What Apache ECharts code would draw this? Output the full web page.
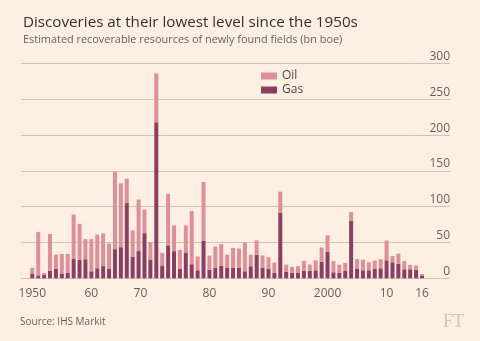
<!DOCTYPE html>
<html>
<head>
<meta charset="utf-8">
<script src="https://cdn.jsdelivr.net/npm/echarts@6/dist/echarts.min.js"></script>
<style>
html,body{margin:0;padding:0;background:#fdf0e3;}
#chart{width:480px;height:341px;}
</style>
</head>
<body>
<div id="chart"></div>
<script>
var years = [];
for (var y = 1950; y <= 2016; y++) years.push(String(y));

var gas = [6, 4, 4.7, 10.7, 13.5, 6, 8, 27, 25.7, 26.6,
  9.8, 14, 17, 13, 40.7, 43.5, 105, 30, 38, 63,
  25.7, 218, 18, 46, 37.9, 13, 36, 19.6, 11.2, 52.3,
  12, 14.5, 17.8, 15, 14.5, 14.5, 9.8, 16.8, 33, 14.5,
  13.5, 8, 91.6, 9.3, 7.5, 7.5, 10.7, 10.5, 11.2, 23,
  37.4, 8.4, 8, 10.3, 80.4, 13, 11.2, 11.2, 13, 14,
  25, 22.4, 20.5, 12.6, 12.6, 12, 4];

var oil = [8.5, 60.5, 2.8, 51.3, 19.5, 28, 26, 62, 50.3, 28.1,
  44.9, 47, 45.6, 35.6, 107.9, 89.2, 34, 37, 72, 33,
  24.3, 68, 17.5, 71.8, 35.9, 26.7, 37.8, 74.4, 19.2, 82.3,
  19.8, 29.9, 29.9, 18, 28, 27.1, 40.2, 16.2, 20, 17.5,
  15.9, 14, 29.4, 9.7, 8.5, 9.3, 13.6, 8.8, 13.8, 20,
  22.6, 15.6, 11, 11.2, 12.1, 14, 14.8, 11.2, 11.8, 12.6,
  27.8, 8.6, 14.1, 11.4, 6.1, 5.8, 2];

var xTickLabels = {'1950':'1950', '1960':'60', '1970':'70', '1980':'80', '1990':'90', '2000':'2000', '2010':'10', '2016':'16'};
var yTicks = [0, 50, 100, 150, 200, 250, 300];

var FONT = 'Open Sans';
var chart = echarts.init(document.getElementById('chart'), null, {renderer: 'canvas'});

chart.setOption({
  backgroundColor: '#fdf0e3',
  animation: false,
  textStyle: {fontFamily: FONT},
  title: {
    text: 'Discoveries at their lowest level since the 1950s',
    subtext: 'Estimated recoverable resources of newly found fields (bn boe)',
    left: 18, top: 10, itemGap: 4,
    textStyle: {fontFamily: FONT, fontSize: 15.2, fontWeight: 'normal', color: '#33302e'},
    subtextStyle: {fontFamily: FONT, fontSize: 10.9, color: '#66605c'}
  },
  legend: {
    data: ['Oil', 'Gas'],
    orient: 'vertical', left: 256, top: 65, itemGap: 2,
    itemWidth: 16, itemHeight: 7, icon: 'rect',
    textStyle: {fontFamily: FONT, fontSize: 12, color: '#4d4845'}
  },
  grid: [
    {left: 21, right: 30, top: 63.5, bottom: 62.7},
    {left: 29.35, right: 55.05, top: 63.5, bottom: 62.7}
  ],
  xAxis: [
    {type: 'value', gridIndex: 0, min: 0, max: 1, show: false},
    {
      type: 'category', gridIndex: 1, data: years,
      axisLine: {show: false}, axisTick: {show: false}, splitLine: {show: false},
      axisLabel: {
        interval: 0, margin: 9, fontSize: 12, color: '#66605c', fontFamily: FONT,
        formatter: function (v) {
          var t = xTickLabels[v] || '';
          return v === '1970' ? '{s|' + t + '}' : t;
        },
        rich: {s: {fontSize: 12, color: '#66605c', fontFamily: FONT, padding: [0, 20, 0, 0]}}
      }
    }
  ],
  yAxis: [
    {
      type: 'value', gridIndex: 0, min: yTicks[0], max: yTicks[yTicks.length - 1], interval: 50, position: 'right',
      axisLine: {show: false}, axisTick: {show: false},
      splitLine: {lineStyle: {color: '#cdc4b8', width: 1}},
      axisLabel: {inside: true, margin: 0, fontSize: 12, color: '#66605c', fontFamily: FONT,
        verticalAlign: 'bottom', padding: [0, 0, 1, 0]}
    },
    {
      type: 'value', gridIndex: 1, min: yTicks[0], max: yTicks[yTicks.length - 1], interval: 50,
      show: false, splitLine: {show: false}
    }
  ],
  graphic: [
    {type: 'text', left: 20, top: 317, style: {text: 'Source: IHS Markit', fontFamily: FONT, fontSize: 10, fill: '#66605c'}},
    {type: 'text', left: 443, top: 313, style: {text: 'FT', fontFamily: 'Liberation Serif', fontSize: 18, fill: '#cfc5b9'}}
  ],
  series: [
    {name: 'Gas', type: 'bar', stack: 'total', xAxisIndex: 1, yAxisIndex: 1, barWidth: 4, data: gas,
      itemStyle: {color: '#8a3f62'}},
    {name: 'Oil', type: 'bar', stack: 'total', xAxisIndex: 1, yAxisIndex: 1, barWidth: 4, data: oil,
      itemStyle: {color: '#df8f98'}}
  ]
});
</script>
</body>
</html>
